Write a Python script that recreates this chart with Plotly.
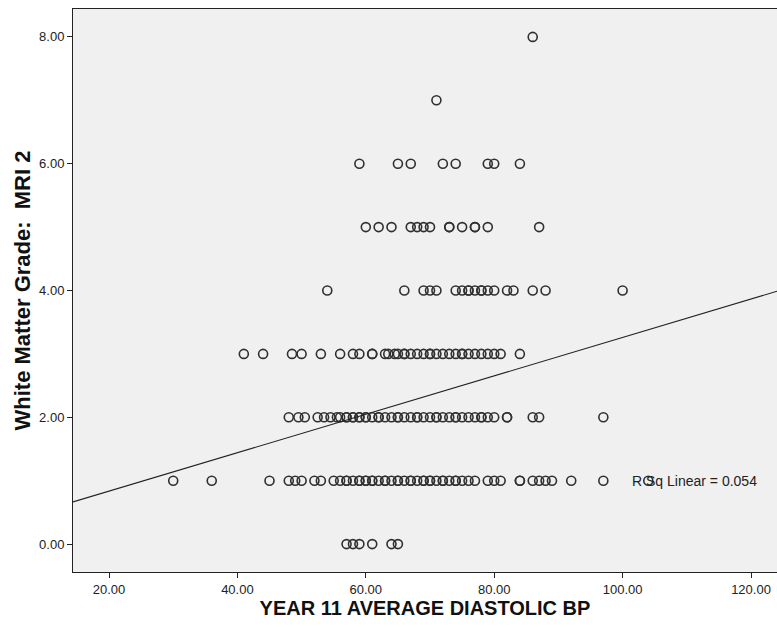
import plotly.graph_objects as go

# --- data ---
bp_grade0 = [57, 58, 59, 61, 64, 65]
bp_grade1 = [30, 36, 45, 48, 49, 50, 52, 53, 55, 56, 57, 57, 58, 59, 59, 60, 60, 61, 61,
             62, 63, 63, 64, 65, 65, 66, 67, 67, 68, 69, 69, 70, 70, 71, 72, 72, 73, 74,
             74, 75, 76, 77, 79, 80, 81, 84, 84, 86, 87, 88, 89, 92, 97, 104]
bp_grade2 = [48, 49.5, 50.5, 52.5, 53.5, 54.5, 55.5, 56, 57, 57, 58, 58, 59, 59, 60, 60,
             61, 62, 62, 63, 64, 65, 65, 66, 67, 68, 68, 69, 70, 71, 71, 72, 73, 74, 74,
             75, 76, 77, 78, 78, 79, 80, 82, 82, 86, 87, 97]
bp_grade3 = [41, 44, 48.5, 50, 53, 56, 58, 59, 61, 61, 63, 63.5, 64.5, 65, 66, 66, 67, 68,
             69, 70, 70, 71, 72, 73, 74, 75, 75, 76, 77, 78, 79, 80, 81, 84]
bp_grade4 = [54, 66, 69, 70, 71, 74, 75, 76, 76, 77, 78, 78, 79, 80, 82, 83, 86, 88, 100]
bp_grade5 = [60, 62, 64, 67, 68, 69, 70, 73, 73, 75, 77, 77, 79, 87]
bp_grade6 = [59, 65, 67, 72, 74, 79, 80, 84]
bp_grade7 = [71]
bp_grade8 = [86]

grade_levels = [0, 1, 2, 3, 4, 5, 6, 7, 8]
bp_by_grade = [bp_grade0, bp_grade1, bp_grade2, bp_grade3, bp_grade4,
               bp_grade5, bp_grade6, bp_grade7, bp_grade8]

fit_intercept = 0.23
fit_slope = 0.0303
r_sq_label = "R Sq Linear = 0.054"

x_range = [14.39, 124.05]
y_range = [-0.44, 8.44]
x_ticks = [20, 40, 60, 80, 100, 120]
y_ticks = [0, 2, 4, 6, 8]

# --- build ---
xs, ys = [], []
for g, vals in zip(grade_levels, bp_by_grade):
    xs += vals
    ys += [g] * len(vals)

fig = go.Figure()
fig.add_trace(go.Scatter(
    x=xs, y=ys, mode="markers",
    marker=dict(symbol="circle-open", size=9, color="#303030", line=dict(width=1.6)),
    showlegend=False, hoverinfo="skip"))

fit_x = x_range
fit_y = [fit_intercept + fit_slope * v for v in fit_x]
fig.add_trace(go.Scatter(x=fit_x, y=fit_y, mode="lines",
                         line=dict(color="#222222", width=1.1),
                         showlegend=False, hoverinfo="skip"))

font_fam = "Arial, Liberation Sans, sans-serif"
fig.add_annotation(x=101.2, y=1, xref="x", yref="y", text=r_sq_label, showarrow=False,
                   xanchor="left", yanchor="middle",
                   font=dict(family=font_fam, size=14, color="#222222"))

fig.update_layout(
    width=777, height=627,
    margin=dict(l=73, r=0, t=9, b=55),
    paper_bgcolor="white", plot_bgcolor="#F0F0F0",
    font=dict(family=font_fam, color="#222222"),
)
fig.update_xaxes(range=x_range, tickvals=x_ticks,
                 ticktext=[f"{v:.2f}" for v in x_ticks],
                 showgrid=False, zeroline=False, showline=True, linecolor="#222222",
                 linewidth=1, mirror=True,
                 ticks="outside", ticklen=5, tickcolor="#222222",
                 tickfont=dict(size=13, color="#222222"),
                 title=dict(text="<b>YEAR 11 AVERAGE DIASTOLIC BP</b>",
                            font=dict(size=20, color="#111111"), standoff=4))
fig.update_yaxes(range=y_range, tickvals=y_ticks,
                 ticktext=[f"{v:.2f}" for v in y_ticks],
                 showgrid=False, zeroline=False, showline=True, linecolor="#222222",
                 linewidth=1, mirror=False,
                 ticks="outside", ticklen=5, tickcolor="#222222",
                 tickfont=dict(size=13, color="#222222"),
                 title=dict(text="<b>White Matter Grade:\u00a0 MRI 2</b>",
                            font=dict(size=22, color="#111111"), standoff=2))

fig.write_html("out.html",
               config={"displayModeBar": False},
               post_script="document.body.style.margin='0';"
                           "document.body.style.overflow='hidden';")
